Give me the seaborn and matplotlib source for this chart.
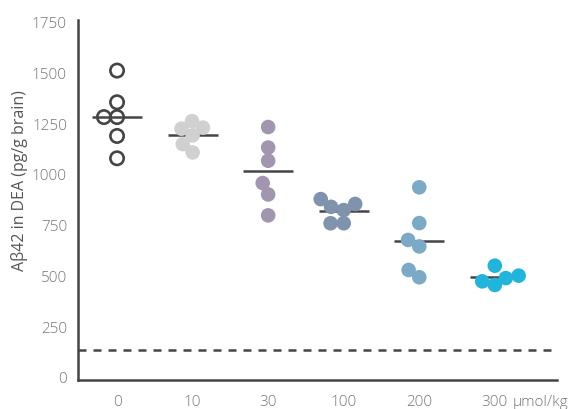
import matplotlib
matplotlib.use("Agg")
import matplotlib.pyplot as plt
import pandas as pd
import seaborn as sns

doses = ["0", "10", "30", "100", "200", "300"]
g0 = [1509, 1353, 1280, 1280, 1187, 1077]
g10 = [1260, 1228, 1223, 1190, 1147, 1106]
g30 = [1231, 1130, 1065, 955, 899, 796]
g100 = [876, 852, 838, 822, 757, 757]
g200 = [934, 758, 675, 643, 527, 491]
g300 = [548, 499, 487, 471, 453]
colors = ["#454545", "#d0d0d0", "#a295b0", "#7f93ad", "#7aaac6", "#22b5dc"]
baseline = 135

groups = [g0, g10, g30, g100, g200, g300]
df = pd.DataFrame({
    "dose": [d for d, g in zip(doses, groups) for _ in g],
    "value": [v for g in groups for v in g],
})

sns.set_style("white")
plt.rcParams["font.family"] = ["Open Sans", "DejaVu Sans"]
plt.rcParams["font.weight"] = "light"

fig = plt.figure(figsize=(5.74, 4.10), dpi=100)
ax = fig.add_axes([0.136, 0.0707, 0.834, 0.879])

# mean lines
sns.pointplot(data=df, x="dose", y="value", order=doses, estimator="mean",
              errorbar=None, linestyle="none", marker="_", markersize=36,
              markeredgewidth=1.8, color="#454545", zorder=1, ax=ax)

# points: swarm laid out with slightly smaller markers, then enlarged
sns.swarmplot(data=df, x="dose", y="value", order=doses, hue="dose",
              hue_order=doses, palette=colors, size=9, linewidth=0,
              legend=False, zorder=3, ax=ax)

ax.set_ylim(-15, 1760)
ax.set_xlim(-0.516, 5.82)
fig.canvas.draw()  # run the swarm layout once
for coll in ax.collections:
    if "draw" in coll.__dict__:
        del coll.draw  # keep the computed offsets
    coll.set_sizes([10.5 ** 2])

# first group drawn as open circles
pts = ax.collections[0]
pts.set_facecolor("none")
pts.set_edgecolor("#454545")
pts.set_linewidth(1.9)
pts.set_sizes([9.6 ** 2])

ax.axhline(baseline, color="#454545", lw=1.8, ls=(0, (3.2, 2.8)), zorder=0)

ax.set_yticks(range(0, 1751, 250))
ax.set_xlabel("")
ax.set_ylabel("A\u03b242 in DEA (pg/g brain)", fontsize=11.5, color="#555555")
ax.yaxis.set_label_coords(-0.104, 0.555)

for side in ["top", "right"]:
    ax.spines[side].set_visible(False)
for side in ["left", "bottom"]:
    ax.spines[side].set_linewidth(1.8)
    ax.spines[side].set_color("#454545")

ax.tick_params(axis="y", length=0, pad=8, labelsize=11, labelcolor="#777777")
ax.tick_params(axis="x", length=4, width=1.4, color="#454545", pad=6,
               labelsize=11, labelcolor="#777777")

ax.annotate("\u00b5mol/kg", xy=(5, 0), xycoords=("data", "axes fraction"),
            xytext=(12.5, -10), textcoords="offset points", ha="left", va="top",
            fontsize=11, color="#777777", annotation_clip=False)

fig.savefig("out.png", dpi=100)
